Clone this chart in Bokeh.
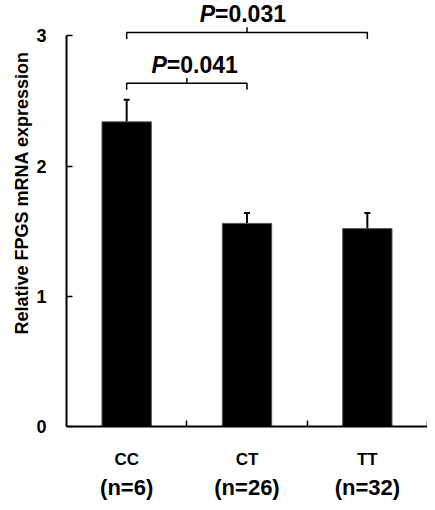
import math
from bokeh.plotting import figure
from bokeh.models import (Range1d, FixedTicker, LinearAxis, Whisker, TeeHead,
                          Label, ColumnDataSource, Title)
from bokeh.embed import file_html
from bokeh.resources import INLINE

# ---- data ----
categories = ["CC", "CT", "TT"]
group_n = ["(n=6)", "(n=26)", "(n=32)"]
means = [2.34, 1.56, 1.52]
errors = [0.17, 0.08, 0.12]
comparisons = [("CC", "CT", "0.041"), ("CC", "TT", "0.031")]
y_ticks = [0, 1, 2, 3]
y_title = "Relative FPGS mRNA expression"

FONT = "Liberation Sans"
xs = [i + 0.5 for i in range(len(categories))]
bounds_x = [i + 1 for i in range(len(categories))]
pos = dict(zip(categories, xs))
upper = [m + e for m, e in zip(means, errors)]

p = figure(width=427, height=502, output_backend="svg", toolbar_location=None,
           x_range=Range1d(0, len(categories)), y_range=Range1d(0, 3.272),
           x_axis_type=None, y_axis_type=None,
           min_border_left=66, min_border_right=0, min_border_top=0,
           min_border_bottom=75)
p.outline_line_color = None
p.background_fill_color = "white"
p.border_fill_color = "white"
p.xgrid.visible = False
p.ygrid.visible = False

# y axis
yax = LinearAxis(ticker=FixedTicker(ticks=y_ticks), bounds=(0, 3))
yax.axis_line_width = 2
yax.axis_line_color = "black"
yax.major_tick_in = 6
yax.major_tick_out = 0
yax.major_tick_line_width = 1.5
yax.minor_tick_line_color = None
yax.major_label_standoff = 20
yax.major_label_text_font = FONT
yax.major_label_text_font_style = "bold"
yax.major_label_text_font_size = "18px"
yax.major_label_text_color = "black"
p.add_layout(yax, "left")

# y title (left, shifted toward the top like the reference)
p.add_layout(Title(text=y_title, align="left", offset=92, text_font=FONT,
                   text_font_style="bold", text_font_size="18px",
                   text_color="black", standoff=4), "left")

# x axis: line, boundary ticks (minor), category labels at centers
xax = LinearAxis(ticker=FixedTicker(ticks=xs, minor_ticks=bounds_x))
xax.axis_line_width = 2
xax.axis_line_color = "black"
xax.major_tick_line_color = None
xax.major_tick_in = 0
xax.major_tick_out = 0
xax.minor_tick_in = 6
xax.minor_tick_out = 0
xax.minor_tick_line_width = 1.5
xax.minor_tick_line_color = "black"
xax.major_label_overrides = {x: c for x, c in zip(xs, categories)}
xax.major_label_standoff = 23
xax.major_label_text_font = FONT
xax.major_label_text_font_style = "bold"
xax.major_label_text_font_size = "17px"
xax.major_label_text_color = "black"
p.add_layout(xax, "below")

nax = LinearAxis(ticker=FixedTicker(ticks=xs, minor_ticks=[]))
nax.axis_line_color = None
nax.major_tick_line_color = None
nax.minor_tick_line_color = None
nax.major_tick_in = 0
nax.major_tick_out = 0
nax.major_label_overrides = {x: n for x, n in zip(xs, group_n)}
nax.major_label_standoff = 3
nax.major_label_text_font = FONT
nax.major_label_text_font_style = "bold"
nax.major_label_text_font_size = "22px"
nax.major_label_text_color = "black"
p.add_layout(nax, "below")

# bars
src = ColumnDataSource(dict(x=xs, top=means, upper=upper))
p.vbar(x="x", top="top", width=0.41, bottom=0, source=src,
       fill_color="black", line_color="#555555", line_width=1)

# error bars (upper only)
p.add_layout(Whisker(source=src, base="x", lower="top", upper="upper",
                     line_width=2, line_color="black",
                     upper_head=TeeHead(size=6, line_width=2, line_color="black"),
                     lower_head=None))

# significance brackets
levels = [2.636, 3.027]
for (a, b, pv), lvl in zip(comparisons, levels):
    xa, xb = pos[a], pos[b]
    mid = (xa + xb) / 2
    p.line([xa, xa, xb, xb], [lvl - 0.05, lvl, lvl, lvl - 0.05],
           line_color="black", line_width=1.5)
    p.line([mid, mid], [lvl, lvl + 0.04], line_color="black", line_width=1.5)
    ty = lvl + 0.09
    off = -20 if lvl < 3 else -32
    for txt, align, style in (("P", "right", "bold italic"), ("=" + pv, "left", "bold")):
        p.add_layout(Label(x=mid, y=ty, x_offset=off, y_offset=7, text=txt,
                           text_align=align, text_baseline="alphabetic",
                           text_font=FONT, text_font_style=style,
                           text_font_size="23px", text_color="black"))

open("out.html", "w").write(file_html(p, INLINE))
